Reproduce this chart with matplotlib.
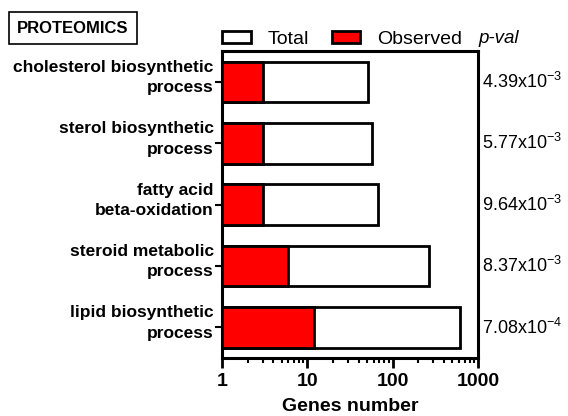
import matplotlib
matplotlib.use("Agg")
import matplotlib.pyplot as plt
from matplotlib.patches import Patch
from matplotlib.ticker import LogLocator, NullFormatter, FixedLocator

plt.rcParams["font.family"] = ["Liberation Sans", "DejaVu Sans"]
plt.rcParams["mathtext.fontset"] = "custom"
plt.rcParams["mathtext.rm"] = "Liberation Sans"

# ── Data (top to bottom) ─────────────────────────────────────────────────────
categories = ["cholesterol biosynthetic\nprocess",
              "sterol biosynthetic\nprocess",
              "fatty acid\nbeta-oxidation",
              "steroid metabolic\nprocess",
              "lipid biosynthetic\nprocess"]
total = [52, 58, 68, 265, 615]
observed = [3, 3, 3, 6, 12]
pvals = [r"4.39x10$^{-3}$", r"5.77x10$^{-3}$", r"9.64x10$^{-3}$",
         r"8.37x10$^{-3}$", r"7.08x10$^{-4}$"]

fig = plt.figure(figsize=(5.68, 4.16), dpi=100)
ax = fig.add_axes([0.391, 0.139, 0.4505, 0.738])

n = len(categories)
ypos = [n - 1 - i for i in range(n)]
h = 0.66
ax.barh(ypos, [t - 1 for t in total], left=1, height=h,
        color="white", edgecolor="black", linewidth=2, zorder=2)
ax.barh(ypos, [o - 1 for o in observed], left=1, height=h,
        color="#ff0000", edgecolor="black", linewidth=2, zorder=3)

ax.set_xscale("log")
ax.set_xlim(1, 1000)
ax.set_ylim(-0.5, n - 0.5)
ax.xaxis.set_major_locator(FixedLocator([1, 10, 100, 1000]))
ax.xaxis.set_minor_locator(LogLocator(base=10, subs=range(2, 10)))
ax.xaxis.set_minor_formatter(NullFormatter())
ax.set_xticklabels(["1", "10", "100", "1000"], fontsize=14, fontweight="bold")
ax.set_yticks(ypos)
ax.set_yticklabels([])
# category labels sit a little above their tick, as in the original
for y, cat in zip(ypos, categories):
    ax.text(-0.033, y + 0.07, cat, transform=ax.get_yaxis_transform(),
            ha="right", va="center", fontsize=12.5, fontweight="bold",
            linespacing=1.45, multialignment="right")
ax.tick_params(axis="x", which="major", length=7, width=2)
ax.tick_params(axis="x", which="minor", length=3.5, width=1.5)
ax.tick_params(axis="y", length=5, width=1.5)
for s in ax.spines.values():
    s.set_linewidth(2.2)
ax.set_xlabel("Genes number", fontsize=14, fontweight="bold", labelpad=6)

for y, p in zip(ypos, pvals):
    ax.text(1.015, y - 0.1, p, transform=ax.get_yaxis_transform(),
            fontsize=13, va="baseline", ha="left")

handles = [Patch(facecolor="white", edgecolor="black", linewidth=2),
           Patch(facecolor="#ff0000", edgecolor="black", linewidth=2)]
fig.legend(handles, ["Total", "Observed"], ncol=2, frameon=False,
           fontsize=14, loc="center left", bbox_to_anchor=(0.378, 0.905),
           handlelength=1.45, handleheight=0.6, columnspacing=1.2,
           handletextpad=0.85, borderaxespad=0)
fig.text(0.842, 0.907, "p-val", fontsize=13.5, style="italic", va="center")

fig.text(0.03, 0.932, "PROTEOMICS", fontsize=12, fontweight="bold", va="center",
         bbox=dict(boxstyle="square,pad=0.5", facecolor="white",
                   edgecolor="black", linewidth=1.2))

fig.savefig("out.png", dpi=100)
